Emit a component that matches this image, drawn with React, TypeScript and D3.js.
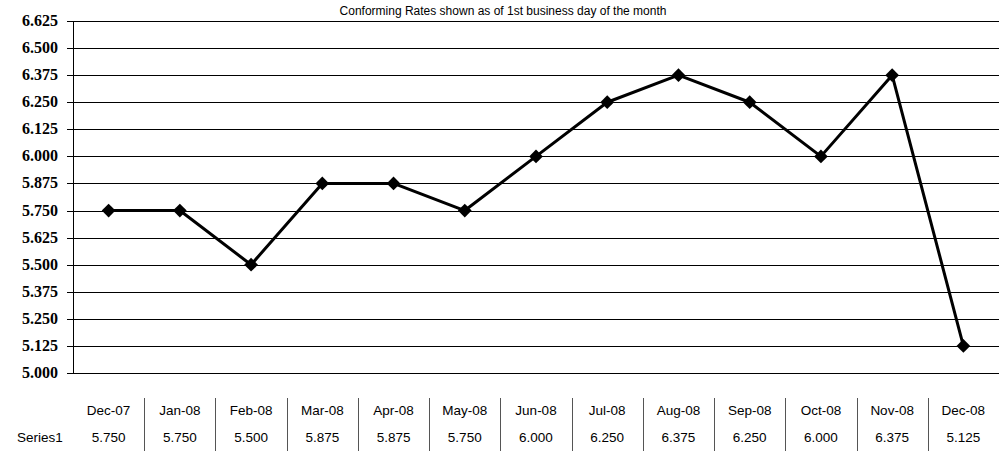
import React, { useEffect, useRef } from 'react'
import * as d3 from 'd3'

const months = ['Dec-07', 'Jan-08', 'Feb-08', 'Mar-08', 'Apr-08', 'May-08', 'Jun-08', 'Jul-08', 'Aug-08', 'Sep-08', 'Oct-08', 'Nov-08', 'Dec-08']
const rates = [5.75, 5.75, 5.5, 5.875, 5.875, 5.75, 6.0, 6.25, 6.375, 6.25, 6.0, 6.375, 5.125]
const yTicks = [5.0, 5.125, 5.25, 5.375, 5.5, 5.625, 5.75, 5.875, 6.0, 6.125, 6.25, 6.375, 6.5, 6.625]
const seriesName = 'Series1'
const title = 'Conforming Rates shown as of 1st business day of the month'

const SANS = "'Liberation Sans', Arial, sans-serif"
const SERIF = "'Liberation Serif', 'Times New Roman', Times, 'DejaVu Serif', serif"

export default function App() {
  const ref = useRef<SVGSVGElement>(null)

  useEffect(() => {
    const width = 1005
    const height = 451
    const left = 73
    const right = 999
    const top = 21
    const bottom = 373

    const svg = d3.select(ref.current)
    svg.selectAll('*').remove()

    const x = d3.scaleBand().domain(months).range([left, right])
    const y = d3.scaleLinear().domain([5.0, 6.625]).range([bottom, top])

    svg.append('rect').attr('width', width).attr('height', height).attr('fill', '#fff')

    // title
    svg.append('text')
      .attr('x', 503).attr('y', 15)
      .attr('text-anchor', 'middle')
      .style('font-family', SANS)
      .style('font-size', '12px')
      .text(title)

    // gridlines
    svg.append('g').selectAll('line')
      .data(yTicks).enter()
      .append('line')
      .attr('x1', left - 6).attr('x2', right)
      .attr('y1', d => Math.round(y(d)) + 0.5)
      .attr('y2', d => Math.round(y(d)) + 0.5)
      .attr('stroke', '#000')
      .attr('stroke-width', 1)

    // y axis line
    svg.append('line')
      .attr('x1', left + 0.5).attr('x2', left + 0.5)
      .attr('y1', top).attr('y2', bottom)
      .attr('stroke', '#000')

    // y labels
    svg.append('g').selectAll('text')
      .data(yTicks).enter()
      .append('text')
      .attr('x', 58)
      .attr('y', d => y(d) + 5)
      .attr('text-anchor', 'end')
      .style('font-family', SERIF)
      .style('font-weight', 'bold')
      .style('font-size', '16px')
      .text(d => d3.format('.3f')(d))

    // line
    const line = d3.line<number>()
      .x((d, i) => x(months[i])! + x.bandwidth() / 2)
      .y(d => y(d))
    svg.append('path')
      .datum(rates)
      .attr('d', line)
      .attr('fill', 'none')
      .attr('stroke', '#000')
      .attr('stroke-width', 3)
      .attr('stroke-linejoin', 'round')

    const diamond = d3.symbol().type(d3.symbolDiamond2).size(120)
    svg.append('g').selectAll('path')
      .data(rates).enter()
      .append('path')
      .attr('d', diamond)
      .attr('transform', (d, i) => `translate(${x(months[i])! + x.bandwidth() / 2},${y(d)})`)
      .attr('fill', '#000')

    // data table
    const table = svg.append('g')
    table.selectAll('line.sep')
      .data(months.slice(1)).enter()
      .append('line')
      .attr('x1', d => Math.round(x(d)!) + 0.5)
      .attr('x2', d => Math.round(x(d)!) + 0.5)
      .attr('y1', 398).attr('y2', 451)
      .attr('stroke', '#555')
    table.selectAll('text.month')
      .data(months).enter()
      .append('text')
      .attr('x', d => x(d)! + x.bandwidth() / 2)
      .attr('y', 415)
      .attr('text-anchor', 'middle')
      .style('font-family', SANS)
      .style('font-size', '13.5px')
      .text(d => d)
    table.selectAll('text.val')
      .data(rates).enter()
      .append('text')
      .attr('x', (d, i) => x(months[i])! + x.bandwidth() / 2)
      .attr('y', 442)
      .attr('text-anchor', 'middle')
      .style('font-family', SANS)
      .style('font-size', '13.5px')
      .text(d => d3.format('.3f')(d))
    table.append('text')
      .attr('x', 17).attr('y', 442)
      .style('font-family', SANS)
      .style('font-size', '13.5px')
      .text(seriesName)
  }, [])

  return <svg ref={ref} width={1005} height={451} style={{ display: 'block', position: 'absolute', left: 0, top: 0 }} />
}
